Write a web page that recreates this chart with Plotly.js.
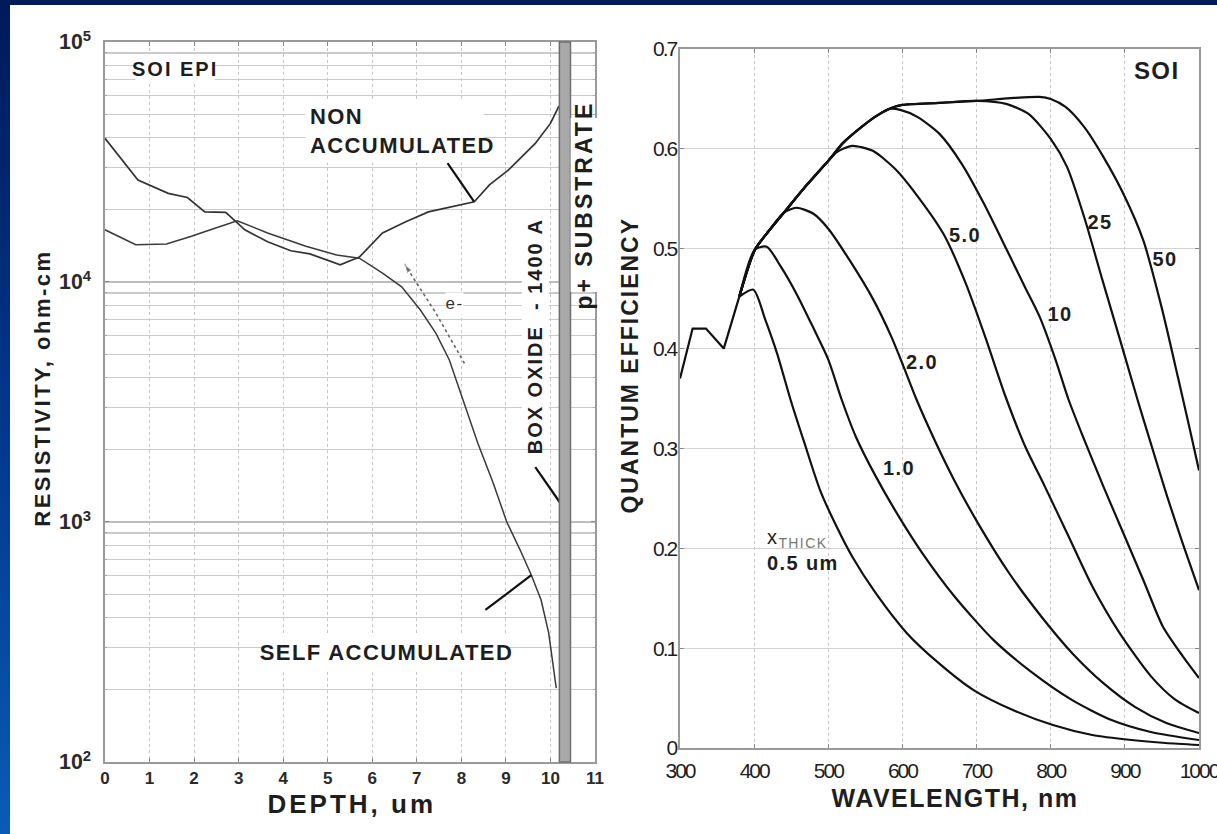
<!DOCTYPE html>
<html><head><meta charset="utf-8">
<script src="https://cdn.plot.ly/plotly-3.0.1.min.js"></script>
<style>
html,body{margin:0;padding:0;width:1217px;height:834px;overflow:hidden;
  background:linear-gradient(to bottom,#001a5a 0%,#023a90 55%,#0a5cb3 100%);}
#chart{position:absolute;left:10px;top:5px;width:1207px;height:829px;background:#fff;}
.annotation text{letter-spacing:1.4px;}
.annotation[data-index="0"] text{letter-spacing:2.5px;}
.annotation[data-index="1"] text{letter-spacing:3px;}
.annotation[data-index="2"] text{letter-spacing:2px;}
.annotation[data-index="3"] text{letter-spacing:1.5px;}
.annotation[data-index="4"] text{letter-spacing:2px;}
.annotation[data-index="8"] text{letter-spacing:2px;}
.annotation[data-index="9"] text{letter-spacing:3px;}
.x2tick text, .y2tick text{letter-spacing:-2px;}
</style></head><body><div id="chart"></div>
<script>
// ---------- LEFT: resistivity vs depth ----------
const depthNon = [0, 0.74, 1.42, 1.85, 2.24, 2.71, 3.14, 3.65, 4.17, 4.60, 5.28, 5.71, 6.23, 6.74, 7.26, 8.29, 8.63, 9.06, 9.66, 10.0, 10.19];
const resNon   = [39700, 26600, 23400, 22500, 19600, 19500, 16500, 14700, 13500, 13100, 11800, 12700, 16000, 17800, 19600, 21600, 25400, 29300, 37800, 45800, 54100];
const depthSelf = [0, 0.69, 1.38, 1.94, 2.45, 2.97, 3.65, 4.51, 5.20, 5.71, 6.23, 6.66, 7.08, 7.43, 7.73, 7.94, 8.37, 8.71, 9.02, 9.32, 9.57, 9.79, 9.96, 10.13];
const resSelf   = [16500, 14300, 14400, 15500, 16700, 18000, 16000, 14100, 12950, 12560, 10900, 9550, 7640, 6110, 4730, 3630, 2130, 1460, 1000, 764, 601, 473, 345, 203];
const arrowX = [8.07, 7.43, 6.72];
const arrowY = [4580, 7410, 11900];
const depthTicks = [0,1,2,3,4,5,6,7,8,9,10,11];
// leader lines (depth, resistivity) pairs: text end -> curve end
const leaderNonX = [7.69, 8.285],  leaderNonY = [31300, 21600];
const leaderSelfX = [8.54, 9.57],  leaderSelfY = [430, 601];
const leaderBoxX = [9.66, 10.22],  leaderBoxY = [1694, 1200];
const boxOxide = [10.2, 10.45];

// ---------- RIGHT: quantum efficiency vs wavelength ----------
const wlStart = [300, 317, 335, 359, 380];
const qeStart = [0.370, 0.420, 0.420, 0.400, 0.452];
const wl05 = [380, 399, 415, 431, 449, 468, 489, 511, 532, 564, 606, 649, 696, 749, 803, 856, 909, 955, 1000];
const qe05 = [0.452, 0.459, 0.429, 0.395, 0.349, 0.305, 0.258, 0.222, 0.192, 0.155, 0.115, 0.085, 0.058, 0.038, 0.023, 0.013, 0.008, 0.005, 0.003];
const wl10 = [380, 401, 417, 436, 457, 479, 500, 518, 537, 564, 595, 627, 670, 723, 776, 829, 882, 935, 1000];
const qe10 = [0.452, 0.499, 0.502, 0.482, 0.455, 0.422, 0.389, 0.349, 0.312, 0.272, 0.232, 0.195, 0.152, 0.108, 0.075, 0.048, 0.028, 0.016, 0.008];
const wl20 = [380, 401, 420, 440, 457, 480, 500, 530, 560, 585, 601, 619, 643, 670, 702, 744, 787, 829, 871, 914, 956, 1000];
const qe20 = [0.452, 0.499, 0.518, 0.536, 0.541, 0.535, 0.520, 0.487, 0.450, 0.412, 0.383, 0.349, 0.309, 0.268, 0.225, 0.175, 0.132, 0.095, 0.065, 0.041, 0.025, 0.015];
const wl50 = [380, 401, 420, 440, 470, 500, 512, 532, 560, 590, 620, 656, 685, 712, 739, 765, 792, 824, 856, 893, 935, 967, 1000];
const qe50 = [0.452, 0.499, 0.518, 0.536, 0.563, 0.588, 0.597, 0.603, 0.598, 0.580, 0.553, 0.514, 0.466, 0.411, 0.352, 0.303, 0.262, 0.212, 0.162, 0.115, 0.072, 0.049, 0.035];
const wl100 = [380, 401, 420, 440, 470, 500, 520, 545, 565, 582, 597, 620, 650, 680, 710, 740, 765, 785, 806, 824, 845, 871, 898, 925, 951, 978, 1000];
const qe100 = [0.452, 0.499, 0.518, 0.536, 0.563, 0.588, 0.606, 0.622, 0.633, 0.640, 0.639, 0.632, 0.615, 0.585, 0.545, 0.500, 0.462, 0.432, 0.390, 0.349, 0.309, 0.262, 0.215, 0.168, 0.122, 0.092, 0.070];
const wl250 = [380, 401, 420, 440, 470, 500, 520, 545, 565, 585, 600, 650, 700, 740, 770, 800, 822, 845, 870, 895, 917, 935, 957, 978, 1000];
const qe250 = [0.452, 0.499, 0.518, 0.536, 0.563, 0.588, 0.606, 0.622, 0.633, 0.641, 0.644, 0.646, 0.648, 0.645, 0.635, 0.610, 0.582, 0.532, 0.468, 0.405, 0.349, 0.305, 0.252, 0.205, 0.158];
const wl500 = [380, 401, 420, 440, 470, 500, 520, 545, 565, 585, 600, 650, 700, 750, 785, 800, 820, 845, 871, 898, 925, 950, 972, 988, 1000];
const qe500 = [0.452, 0.499, 0.518, 0.536, 0.563, 0.588, 0.606, 0.622, 0.633, 0.641, 0.644, 0.646, 0.648, 0.651, 0.652, 0.650, 0.642, 0.622, 0.592, 0.555, 0.508, 0.440, 0.370, 0.318, 0.278];
const thickNames = ['0.5 um', '1.0 um', '2.0 um', '5.0 um', '10 um', '25 um', '50 um'];
const wlTicks = [300,400,500,600,700,800,900,1000];
const qeTicks = [0,0.1,0.2,0.3,0.4,0.5,0.6,0.7];

const curves = [[wl05,qe05],[wl10,qe10],[wl20,qe20],[wl50,qe50],[wl100,qe100],[wl250,qe250],[wl500,qe500]];

const traces = [
  {x: depthNon, y: resNon, type:'scatter', mode:'lines', name:'NON ACCUMULATED',
   line:{color:'#333', width:1.7}, xaxis:'x', yaxis:'y'},
  {x: depthSelf, y: resSelf, type:'scatter', mode:'lines', name:'SELF ACCUMULATED',
   line:{color:'#3a3a3a', width:1.5}, xaxis:'x', yaxis:'y'},
  {x: arrowX, y: arrowY, type:'scatter', mode:'lines+markers', name:'e-',
   line:{color:'#666', width:1.6, dash:'dot'},
   marker:{symbol:['circle','circle','arrow'], size:[0,0,10], angleref:'previous', color:'#666'},
   xaxis:'x', yaxis:'y'}
];
[[leaderNonX,leaderNonY],[leaderSelfX,leaderSelfY],[leaderBoxX,leaderBoxY]].forEach(p => {
  traces.push({x:p[0], y:p[1], type:'scatter', mode:'lines', line:{color:'#111', width:2.2}, xaxis:'x', yaxis:'y', hoverinfo:'skip'});
});
traces.push({x: wlStart, y: qeStart, type:'scatter', mode:'lines', name:'all thicknesses',
  line:{color:'#111', width:2.2}, xaxis:'x2', yaxis:'y2'});
curves.forEach((c, i) => {
  traces.push({x: c[0], y: c[1], type:'scatter', mode:'lines',
    name: thickNames[i], line:{color:'#111', width:2.2, shape:'spline', smoothing:0.7}, xaxis:'x2', yaxis:'y2'});
});

const tickFontL = {family:'Arial, Liberation Sans, sans-serif', size:17, color:'#2a2a2a', weight:'bold'};
const tickFontR = {family:'Arial, Liberation Sans, sans-serif', size:21, color:'#1e1e1e'};
const bold = (s) => ({family:'Arial, Liberation Sans, sans-serif', size:s, color:'#1e1e1e', weight:'bold'});

const annotations = [
  {text:'RESISTIVITY, ohm-cm', xref:'paper', yref:'paper', x:0.0273, y:0.538, xanchor:'center', yanchor:'middle', textangle:-90, showarrow:false, font:bold(22)},
  {text:'DEPTH, um', xref:'paper', yref:'paper', x:0.2833, y:0.0362, xanchor:'center', yanchor:'middle', showarrow:false, font:bold(26)},
  {text:'QUANTUM EFFICIENCY', xref:'paper', yref:'paper', x:0.5133, y:0.5657, xanchor:'center', yanchor:'middle', textangle:-90, showarrow:false, font:bold(23)},
  {text:'WAVELENGTH, nm', xref:'paper', yref:'paper', x:0.7829, y:0.0434, xanchor:'center', yanchor:'middle', showarrow:false, font:bold(25)},
  {text:'SOI EPI', xref:'x', yref:'y', x:1.57, y:4.8875, showarrow:false, font:bold(20), bgcolor:'#fff', borderpad:3},
  {text:'NON<br>ACCUMULATED', xref:'x', yref:'y', x:4.50, y:4.629, xanchor:'left', align:'left', showarrow:false, font:bold(22), bgcolor:'#fff', borderpad:4},
  {text:'SELF ACCUMULATED', xref:'x', yref:'y', x:6.33, y:2.458, showarrow:false, font:bold(22), bgcolor:'#fff', borderpad:4},
  {text:'e-', xref:'x', yref:'y', x:7.85, y:3.912, showarrow:false, font:{family:'Arial, sans-serif', size:17, color:'#333'}, bgcolor:'#fff', borderpad:1},
  {text:'BOX OXIDE  - 1400 A', xref:'x', yref:'y', x:9.66, y:3.775, textangle:-90, showarrow:false, font:bold(20), bgcolor:'#fff', borderpad:2},
  {text:'p+ SUBSTRATE', xref:'x', yref:'y', x:10.76, y:4.32, textangle:-90, showarrow:false, font:bold(23), bgcolor:'#fff', borderpad:0},
  {text:'SOI', xref:'x2', yref:'y2', x:942, y:0.678, showarrow:false, font:bold(24)},
  {text:'5.0', xref:'x2', yref:'y2', x:684, y:0.514, showarrow:false, font:bold(20)},
  {text:'10', xref:'x2', yref:'y2', x:812, y:0.435, showarrow:false, font:bold(20)},
  {text:'25', xref:'x2', yref:'y2', x:867, y:0.527, showarrow:false, font:bold(20)},
  {text:'50', xref:'x2', yref:'y2', x:954, y:0.490, showarrow:false, font:bold(20)},
  {text:'2.0', xref:'x2', yref:'y2', x:627, y:0.387, showarrow:false, font:bold(20)},
  {text:'1.0', xref:'x2', yref:'y2', x:595.5, y:0.280, showarrow:false, font:bold(20)},
  {text:'x<sub><span style="color:#777">THICK</span></sub><br><b>0.5 um</b>', xref:'x2', yref:'y2', x:415, y:0.198, xanchor:'left', align:'left', showarrow:false,
   font:{family:'Arial, Liberation Sans, sans-serif', size:20, color:'#1e1e1e'}}
];

const shapes = [
  {type:'rect', xref:'x', yref:'y domain', x0:boxOxide[0], x1:boxOxide[1], y0:0, y1:1, fillcolor:'#a9a9a9', line:{color:'#6f6f6f', width:1.5}, layer:'above'}
];

const frame = {showline:true, linecolor:'#9a9a9a', linewidth:1.6, mirror:'ticks', ticks:'inside', ticklen:4, tickcolor:'#8a8a8a', zeroline:false};

const layout = {
  width:1207, height:829, showlegend:false,
  paper_bgcolor:'#fff', plot_bgcolor:'#fff',
  margin:{l:0, r:0, t:0, b:0},
  xaxis: Object.assign({}, frame, {domain:[0.07871, 0.48467], range:[0, 11], tickvals:depthTicks,
    showgrid:true, gridcolor:'#c8c8c8', griddash:'dot', gridwidth:1, tickfont:tickFontL, ticklabelstandoff:0}),
  yaxis: Object.assign({}, frame, {domain:[0.08685, 0.95537], type:'log', range:[2, 5], dtick:1, exponentformat:'power',
    showgrid:true, gridcolor:'#bdbdbd', gridwidth:1.2, tickfont:tickFontL, ticklabelstandoff:9,
    minor:{dtick:'D1', showgrid:true, gridcolor:'#cbcbcb', gridwidth:1.1, ticks:'inside', ticklen:2, tickcolor:'#aaa'}}),
  xaxis2: Object.assign({}, frame, {domain:[0.55510, 0.98509], range:[300, 1000], tickvals:wlTicks, anchor:'y2',
    showgrid:true, gridcolor:'#c8c8c8', griddash:'dot', gridwidth:1, tickfont:tickFontR, ticklabelstandoff:3, ticklabeloverflow:'allow'}),
  yaxis2: Object.assign({}, frame, {domain:[0.10374, 0.94692], range:[0, 0.7], tickvals:qeTicks, anchor:'x2',
    showgrid:true, gridcolor:'#d2d2d2', gridwidth:1.2, tickfont:tickFontR, ticklabelstandoff:-2, ticklabeloverflow:'allow'}),
  annotations: annotations,
  shapes: shapes
};

Plotly.newPlot('chart', traces, layout, {staticPlot:true, displayModeBar:false});
</script></body></html>
